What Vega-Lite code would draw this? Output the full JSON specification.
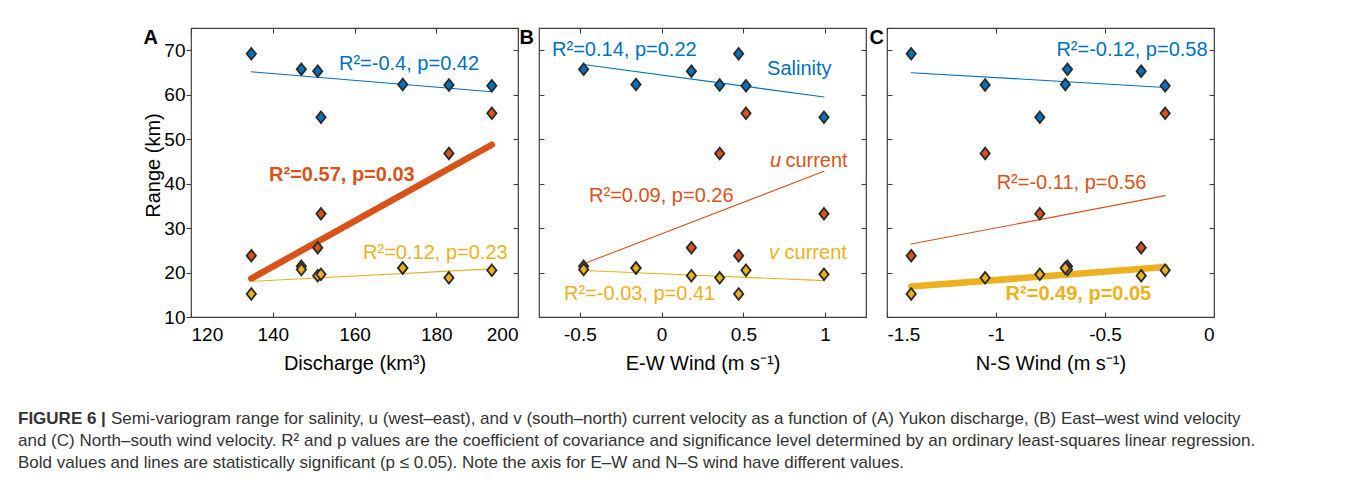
{
  "$schema": "https://vega.github.io/schema/vega-lite/v6.json",
  "padding": {"left": 8, "top": 26, "right": 0, "bottom": 9},
  "autosize": {"type": "pad"},
  "config": {
    "font": "Liberation Sans",
    "view": {"stroke": "#404040", "strokeWidth": 1.2},
    "axis": {"grid": false, "domain": false, "tickColor": "#404040", "tickWidth": 1.1, "labelFont": "Liberation Sans", "labelFontSize": 19, "labelColor": "#000", "titleFont": "Liberation Sans", "titleFontSize": 20, "titleFontWeight": "normal", "titleColor": "#000"},
    "text": {"font": "Liberation Sans", "fontSize": 20}
  },
  "datasets": {
    "obs": [
      {"Q": 134.75, "EW": 0.471, "NS": -1.389, "salinity": 69.2, "u": 23.8, "v": 15.2},
      {"Q": 147.0, "EW": -0.477, "NS": -0.672, "salinity": 65.7, "u": 21.4, "v": 20.7},
      {"Q": 151.0, "EW": 0.182, "NS": -0.334, "salinity": 65.3, "u": 25.6, "v": 19.3},
      {"Q": 151.8, "EW": 0.993, "NS": -0.799, "salinity": 54.9, "u": 33.2, "v": 19.6},
      {"Q": 171.8, "EW": -0.157, "NS": -0.682, "salinity": 62.3, "u": 21.0, "v": 21.0},
      {"Q": 183.1, "EW": 0.355, "NS": -1.05, "salinity": 62.2, "u": 46.8, "v": 18.8},
      {"Q": 193.6, "EW": 0.516, "NS": -0.224, "salinity": 62.0, "u": 55.8, "v": 20.5}
    ],
    "labels": [
      {"panel": "A", "series": "salinity", "kind": "stat", "sig": false, "label": "R²=-0.4, p=0.42", "x": 156.2, "y": 66.9},
      {"panel": "A", "series": "u", "kind": "stat", "sig": true, "label": "R²=0.57, p=0.03", "x": 139.1, "y": 41.9},
      {"panel": "A", "series": "v", "kind": "stat", "sig": false, "label": "R²=0.12, p=0.23", "x": 162.1, "y": 24.4},
      {"panel": "B", "series": "salinity", "kind": "stat", "sig": false, "label": "R²=0.14, p=0.22", "x": -0.67, "y": 70.1},
      {"panel": "B", "series": "salinity", "kind": "name", "sig": false, "label": "Salinity", "x": 0.645, "y": 65.8},
      {"panel": "B", "series": "u", "kind": "sym", "sig": false, "label": "u", "x": 0.663, "y": 45.1},
      {"panel": "B", "series": "u", "kind": "name", "sig": false, "label": "current", "x": 0.757, "y": 45.1},
      {"panel": "B", "series": "u", "kind": "stat", "sig": false, "label": "R²=0.09, p=0.26", "x": -0.444, "y": 37.2},
      {"panel": "B", "series": "v", "kind": "sym", "sig": false, "label": "v", "x": 0.657, "y": 24.4},
      {"panel": "B", "series": "v", "kind": "name", "sig": false, "label": "current", "x": 0.752, "y": 24.4},
      {"panel": "B", "series": "v", "kind": "stat", "sig": false, "label": "R²=-0.03, p=0.41", "x": -0.597, "y": 15.2},
      {"panel": "C", "series": "salinity", "kind": "stat", "sig": false, "label": "R²=-0.12, p=0.58", "x": -0.723, "y": 70.1},
      {"panel": "C", "series": "u", "kind": "stat", "sig": false, "label": "R²=-0.11, p=0.56", "x": -0.997, "y": 40.1},
      {"panel": "C", "series": "v", "kind": "stat", "sig": true, "label": "R²=0.49, p=0.05", "x": -0.956, "y": 15.2}
    ],
    "caption": [
      {"line": 1, "part": "head", "text": "FIGURE 6 |"},
      {"line": 1, "part": "after", "text": "Semi-variogram range for salinity, u (west–east), and v (south–north) current velocity as a function of (A) Yukon discharge, (B) East–west wind velocity"},
      {"line": 2, "part": "body", "text": "and (C) North–south wind velocity. R² and p values are the coefficient of covariance and significance level determined by an ordinary least-squares linear regression."},
      {"line": 3, "part": "body", "text": "Bold values and lines are statistically significant (p ≤ 0.05). Note the axis for E–W and N–S wind have different values."}
    ]
  },
  "columns": 1,
  "bounds": "full",
  "spacing": 34,
  "concat": [
    {
      "bounds": "flush",
      "spacing": 21,
      "hconcat": [
        {
          "width": 327,
          "height": 289,
          "data": {"name": "obs"},
          "layer": [
            {
              "transform": [{"fold": ["salinity", "u", "v"], "as": ["series", "range"]}, {"regression": "range", "on": "Q", "groupby": ["series"]}],
              "mark": {"type": "line", "strokeCap": "round"},
              "encoding": {
                "x": {"field": "Q", "type": "quantitative", "scale": {"domain": [120, 200], "nice": false, "zero": false}, "axis": {"orient": "bottom", "values": [120, 140, 160, 180, 200], "title": "Discharge (km³)", "tickSize": -5, "labelPadding": 13, "titlePadding": 9}},
                "y": {"field": "range", "type": "quantitative", "scale": {"domain": [10, 75], "nice": false, "zero": false}, "axis": {"orient": "left", "values": [10, 20, 30, 40, 50, 60, 70], "title": "Range (km)", "tickSize": 5, "labelPadding": 1, "minExtent": 182, "titleX": -28, "titleY": 137}},
                "color": {"field": "series", "type": "nominal", "scale": {"domain": ["salinity", "u", "v"], "range": ["#0072BD", "#D95319", "#EDB120"]}, "legend": null},
                "strokeWidth": {"condition": {"test": "datum.series === 'u'", "value": 6.5}, "value": 1.1}
              }
            },
            {
              "transform": [{"fold": ["salinity", "u", "v"], "as": ["series", "range"]}],
              "mark": {"type": "point", "shape": "M0,-1L0.8,0L0,1L-0.8,0Z", "filled": true, "size": 135, "stroke": "#2b2b2b", "strokeWidth": 1.8, "opacity": 1},
              "encoding": {
                "x": {"field": "Q", "type": "quantitative", "axis": {"orient": "top", "values": [120, 140, 160, 180, 200], "labels": false, "title": null, "tickSize": -5, "minExtent": 0}},
                "y": {"field": "range", "type": "quantitative", "axis": {"orient": "right", "values": [10, 20, 30, 40, 50, 60, 70], "labels": false, "title": null, "tickSize": -5, "minExtent": 0}},
                "color": {"field": "series", "type": "nominal", "legend": null}
              }
            },
            {
              "data": {"name": "labels"},
              "transform": [{"filter": "datum.panel === 'A' && !datum.sig"}],
              "mark": {"type": "text", "align": "left", "baseline": "middle", "fontSize": 20},
              "encoding": {
                "x": {"field": "x", "type": "quantitative", "axis": null},
                "y": {"field": "y", "type": "quantitative", "axis": null},
                "text": {"field": "label"},
                "color": {"field": "series", "type": "nominal", "legend": null}
              }
            },
            {
              "data": {"name": "labels"},
              "transform": [{"filter": "datum.panel === 'A' && datum.sig"}],
              "mark": {"type": "text", "align": "left", "baseline": "middle", "fontSize": 20, "fontWeight": "bold"},
              "encoding": {
                "x": {"field": "x", "type": "quantitative", "axis": null},
                "y": {"field": "y", "type": "quantitative", "axis": null},
                "text": {"field": "label"},
                "color": {"field": "series", "type": "nominal", "legend": null}
              }
            },
            {
              "data": {"values": [{"letter": "A"}]},
              "mark": {"type": "text", "align": "right", "baseline": "top", "fontSize": 20, "fontWeight": "bold", "color": "#000", "dx": -33},
              "encoding": {
                "x": {"datum": 120, "type": "quantitative", "axis": null},
                "y": {"datum": 75, "type": "quantitative", "axis": null},
                "text": {"field": "letter"}
              }
            }
          ],
          "resolve": {"axis": {"x": "independent", "y": "independent"}}
        },
        {
          "width": 327,
          "height": 289,
          "data": {"name": "obs"},
          "layer": [
            {
              "transform": [{"fold": ["salinity", "u", "v"], "as": ["series", "range"]}, {"regression": "range", "on": "EW", "groupby": ["series"]}],
              "mark": {"type": "line", "strokeCap": "round", "strokeWidth": 1.1},
              "encoding": {
                "x": {"field": "EW", "type": "quantitative", "scale": {"domain": [-0.75, 1.25], "nice": false, "zero": false}, "axis": {"orient": "bottom", "values": [-0.5, 0, 0.5, 1], "labelExpr": "datum.value < 0 ? '-' + format(-datum.value, '~g') : format(datum.value, '~g')", "title": "E-W Wind (m s⁻¹)", "tickSize": -5, "labelPadding": 13, "titlePadding": 9}},
                "y": {"field": "range", "type": "quantitative", "scale": {"domain": [10, 75], "nice": false, "zero": false}, "axis": {"orient": "left", "values": [10, 20, 30, 40, 50, 60, 70], "labels": false, "title": null, "tickSize": -5, "minExtent": 0}},
                "color": {"field": "series", "type": "nominal", "scale": {"domain": ["salinity", "u", "v"], "range": ["#0072BD", "#D95319", "#EDB120"]}, "legend": null}
              }
            },
            {
              "transform": [{"fold": ["salinity", "u", "v"], "as": ["series", "range"]}],
              "mark": {"type": "point", "shape": "M0,-1L0.8,0L0,1L-0.8,0Z", "filled": true, "size": 135, "stroke": "#2b2b2b", "strokeWidth": 1.8, "opacity": 1},
              "encoding": {
                "x": {"field": "EW", "type": "quantitative", "axis": {"orient": "top", "values": [-0.5, 0, 0.5, 1], "labels": false, "title": null, "tickSize": -5, "minExtent": 0}},
                "y": {"field": "range", "type": "quantitative", "axis": {"orient": "right", "values": [10, 20, 30, 40, 50, 60, 70], "labels": false, "title": null, "tickSize": -5, "minExtent": 0}},
                "color": {"field": "series", "type": "nominal", "legend": null}
              }
            },
            {
              "data": {"name": "labels"},
              "transform": [{"filter": "datum.panel === 'B' && datum.kind !== 'sym'"}],
              "mark": {"type": "text", "align": "left", "baseline": "middle", "fontSize": 20},
              "encoding": {
                "x": {"field": "x", "type": "quantitative", "axis": null},
                "y": {"field": "y", "type": "quantitative", "axis": null},
                "text": {"field": "label"},
                "color": {"field": "series", "type": "nominal", "legend": null}
              }
            },
            {
              "data": {"name": "labels"},
              "transform": [{"filter": "datum.panel === 'B' && datum.kind === 'sym'"}],
              "mark": {"type": "text", "align": "left", "baseline": "middle", "fontSize": 20, "fontStyle": "italic"},
              "encoding": {
                "x": {"field": "x", "type": "quantitative", "axis": null},
                "y": {"field": "y", "type": "quantitative", "axis": null},
                "text": {"field": "label"},
                "color": {"field": "series", "type": "nominal", "legend": null}
              }
            },
            {
              "data": {"values": [{"letter": "B"}]},
              "mark": {"type": "text", "align": "right", "baseline": "top", "fontSize": 20, "fontWeight": "bold", "color": "#000", "dx": -5},
              "encoding": {
                "x": {"datum": -0.75, "type": "quantitative", "axis": null},
                "y": {"datum": 75, "type": "quantitative", "axis": null},
                "text": {"field": "letter"}
              }
            }
          ],
          "resolve": {"axis": {"x": "independent", "y": "independent"}}
        },
        {
          "width": 327,
          "height": 289,
          "data": {"name": "obs"},
          "layer": [
            {
              "transform": [{"fold": ["salinity", "u", "v"], "as": ["series", "range"]}, {"regression": "range", "on": "NS", "groupby": ["series"]}],
              "mark": {"type": "line", "strokeCap": "round"},
              "encoding": {
                "x": {"field": "NS", "type": "quantitative", "scale": {"domain": [-1.5, 0], "nice": false, "zero": false}, "axis": {"orient": "bottom", "values": [-1.5, -1, -0.5, 0], "labelExpr": "datum.value < 0 ? '-' + format(-datum.value, '~g') : format(datum.value, '~g')", "title": "N-S Wind (m s⁻¹)", "tickSize": -5, "labelPadding": 13, "titlePadding": 9}},
                "y": {"field": "range", "type": "quantitative", "scale": {"domain": [10, 75], "nice": false, "zero": false}, "axis": {"orient": "left", "values": [10, 20, 30, 40, 50, 60, 70], "labels": false, "title": null, "tickSize": -5, "minExtent": 0}},
                "color": {"field": "series", "type": "nominal", "scale": {"domain": ["salinity", "u", "v"], "range": ["#0072BD", "#D95319", "#EDB120"]}, "legend": null},
                "strokeWidth": {"condition": {"test": "datum.series === 'v'", "value": 6.5}, "value": 1.1}
              }
            },
            {
              "transform": [{"fold": ["salinity", "u", "v"], "as": ["series", "range"]}],
              "mark": {"type": "point", "shape": "M0,-1L0.8,0L0,1L-0.8,0Z", "filled": true, "size": 135, "stroke": "#2b2b2b", "strokeWidth": 1.8, "opacity": 1},
              "encoding": {
                "x": {"field": "NS", "type": "quantitative", "axis": {"orient": "top", "values": [-1.5, -1, -0.5, 0], "labels": false, "title": null, "tickSize": -5, "minExtent": 0}},
                "y": {"field": "range", "type": "quantitative", "axis": {"orient": "right", "values": [10, 20, 30, 40, 50, 60, 70], "labels": false, "title": null, "tickSize": -5, "minExtent": 0}},
                "color": {"field": "series", "type": "nominal", "legend": null}
              }
            },
            {
              "data": {"name": "labels"},
              "transform": [{"filter": "datum.panel === 'C' && !datum.sig"}],
              "mark": {"type": "text", "align": "left", "baseline": "middle", "fontSize": 20},
              "encoding": {
                "x": {"field": "x", "type": "quantitative", "axis": null},
                "y": {"field": "y", "type": "quantitative", "axis": null},
                "text": {"field": "label"},
                "color": {"field": "series", "type": "nominal", "legend": null}
              }
            },
            {
              "data": {"name": "labels"},
              "transform": [{"filter": "datum.panel === 'C' && datum.sig"}],
              "mark": {"type": "text", "align": "left", "baseline": "middle", "fontSize": 20, "fontWeight": "bold"},
              "encoding": {
                "x": {"field": "x", "type": "quantitative", "axis": null},
                "y": {"field": "y", "type": "quantitative", "axis": null},
                "text": {"field": "label"},
                "color": {"field": "series", "type": "nominal", "legend": null}
              }
            },
            {
              "data": {"values": [{"letter": "C"}]},
              "mark": {"type": "text", "align": "right", "baseline": "top", "fontSize": 20, "fontWeight": "bold", "color": "#000", "dx": -3},
              "encoding": {
                "x": {"datum": -1.5, "type": "quantitative", "axis": null},
                "y": {"datum": 75, "type": "quantitative", "axis": null},
                "text": {"field": "letter"}
              }
            }
          ],
          "resolve": {"axis": {"x": "independent", "y": "independent"}}
        }
      ]
    },
    {
      "width": 1100,
      "height": 66,
      "view": {"stroke": null, "fill": "white"},
      "data": {"name": "caption"},
      "encoding": {
        "y": {"field": "line", "type": "ordinal", "axis": null},
        "x": {"value": 0},
        "text": {"field": "text"}
      },
      "layer": [
        {"transform": [{"filter": "datum.part === 'head'"}], "mark": {"type": "text", "align": "left", "baseline": "middle", "dx": -173, "font": "Liberation Sans", "fontSize": 17, "fontWeight": "bold", "color": "#333"}},
        {"transform": [{"filter": "datum.part === 'after'"}], "mark": {"type": "text", "align": "left", "baseline": "middle", "dx": -80, "font": "Liberation Sans", "fontSize": 17, "color": "#333"}},
        {"transform": [{"filter": "datum.part === 'body'"}], "mark": {"type": "text", "align": "left", "baseline": "middle", "dx": -173, "font": "Liberation Sans", "fontSize": 17, "color": "#333"}}
      ]
    }
  ]
}
